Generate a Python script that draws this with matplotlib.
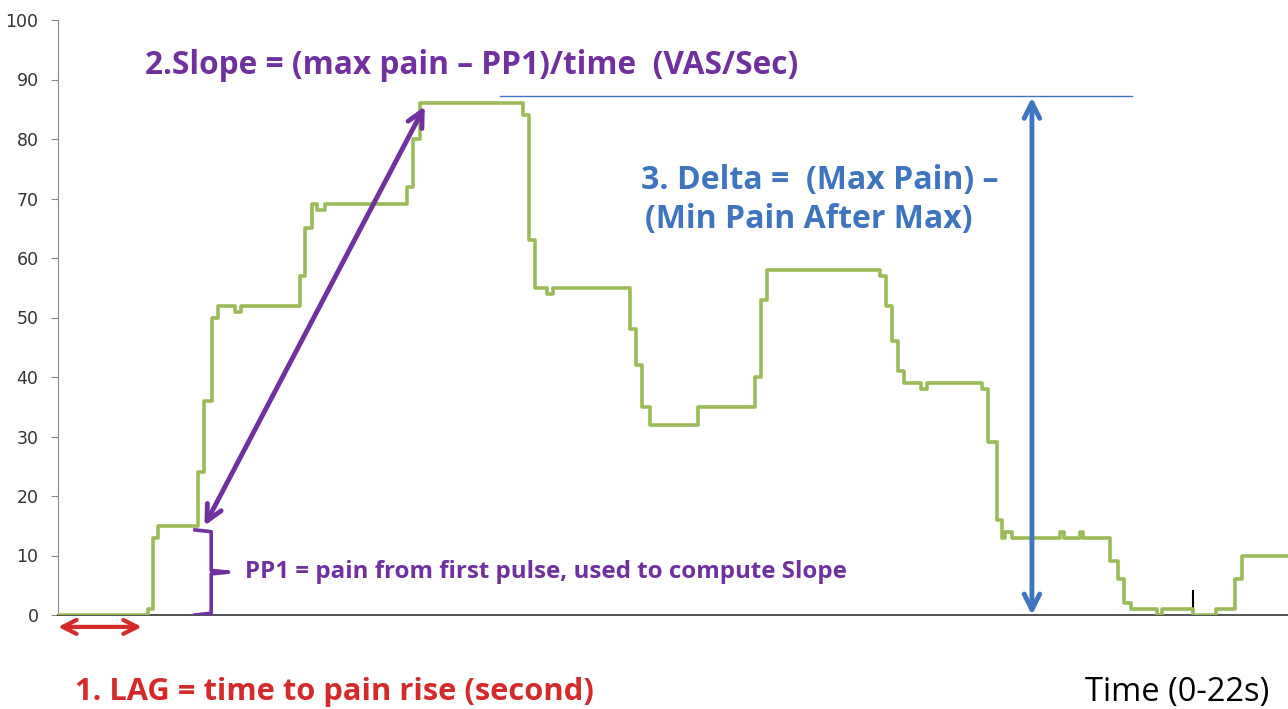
import matplotlib
matplotlib.use('Agg')
import matplotlib.pyplot as plt
import numpy as np

# pain trace (VAS) as steps: time in seconds, value held until next time
t = [0, 1.61, 1.70, 1.79, 2.50, 2.61, 2.75, 2.86, 3.17, 3.27, 4.33, 4.42, 4.54, 4.63, 4.78,
     6.24, 6.35, 6.47, 8.32, 8.42, 8.53, 8.75, 8.85, 10.23, 10.34, 10.45, 10.59, 11.45,
     12.47, 12.57, 12.68, 14.70, 14.81, 14.92, 15.02, 15.13, 15.43, 15.54, 16.53, 16.63,
     16.80, 16.88, 16.94, 17.06, 17.92, 17.99, 18.28, 18.33, 18.82, 18.96, 19.07, 19.19,
     19.66, 19.75, 20.30, 20.71, 21.05, 21.18, 22.0]
pain = [0, 1, 13, 15, 24, 36, 50, 52, 51, 52, 57, 65, 69, 68, 69,
        72, 80, 86, 84, 63, 55, 54, 55, 48, 42, 35, 32, 35,
        40, 53, 58, 57, 52, 46, 41, 39, 38, 39, 38, 29,
        16, 13, 14, 13, 14, 13, 14, 13, 9, 6, 2, 1,
        0, 1, 0, 1, 6, 10, 10]
yticks = list(range(0, 101, 10))

purple = '#7030A0'
red = '#D42A2A'
blue = '#3F74C0'
green = '#9BBB59'
fnt = 'Open Sans'

fig = plt.figure(figsize=(12.88, 7.09), dpi=100)
ax = fig.add_axes([58/1288, 94/709, 1 - 58/1288, 595/709])

ax.step(t, pain, where='post', color=green, lw=2.6, zorder=3)

ax.set_xlim(0, 22)
ax.set_ylim(0, 100)
ax.set_yticks(yticks)
ax.set_xticks([])
ax.tick_params(axis='y', length=5, pad=9, color='#888888', labelsize=12.5, labelcolor='#333333')
for s in ['top', 'right']:
    ax.spines[s].set_visible(False)
ax.spines['left'].set_color('#888888')
ax.spines['bottom'].set_color('#444444')
ax.spines['bottom'].set_linewidth(1.3)

# 1. LAG arrow below the axis
ax.annotate('', xy=(0, -2), xytext=(1.50, -2), annotation_clip=False,
            arrowprops=dict(arrowstyle='<->', color=red, lw=3, mutation_scale=25,
                            shrinkA=0, shrinkB=0))
fig.text(75/1288, 1 - 692/709, '1. LAG = time to pain rise (second)', color=red,
         fontsize=22.2, fontweight='bold', family=fnt, va='center', ha='left')

# 2. slope arrow
ax.annotate('', xy=(2.62, 15), xytext=(6.56, 85.5),
            arrowprops=dict(arrowstyle='<->', color=purple, lw=3.5, mutation_scale=28,
                            shrinkA=0, shrinkB=0))
ax.text(1.56, 92.3, '2.Slope = (max pain \u2013 PP1)/time  (VAS/Sec)', color=purple,
        fontsize=22.8, fontweight='bold', family=fnt, va='center', ha='left')

# PP1 brace
bx = [2.45, 2.74, 2.74, 3.05, 2.74, 2.74, 2.45]
by = [14.3, 14.0, 7.5, 7.2, 6.9, 0.3, 0.0]
ax.plot(bx, by, color=purple, lw=2.6, zorder=4)
ax.text(3.35, 7.2, 'PP1 = pain from first pulse, used to compute Slope', color=purple,
        fontsize=17.4, fontweight='bold', family=fnt, va='center', ha='left')

# 3. delta
ax.plot([7.91, 19.21], [87.2, 87.2], color=blue, lw=1)
ax.annotate('', xy=(17.42, 87), xytext=(17.42, 0),
            arrowprops=dict(arrowstyle='<->', color=blue, lw=3.5, mutation_scale=28,
                            shrinkA=0, shrinkB=0))
ax.text(13.63, 73.1, '3. Delta =  (Max Pain) \u2013', color=blue,
        fontsize=23, fontweight='bold', family=fnt, va='center', ha='center')
ax.text(13.43, 66.4, '(Min Pain After Max)', color=blue,
        fontsize=23, fontweight='bold', family=fnt, va='center', ha='center')

# small marker near the end
ax.plot([20.30, 20.30], [0, 4], color='black', lw=1.5)

fig.text(1085/1288, 1 - 692/709, 'Time (0-22s)', color='black', fontsize=23.5,
         family=fnt, va='center', ha='left')

fig.savefig('out.png', dpi=100)
